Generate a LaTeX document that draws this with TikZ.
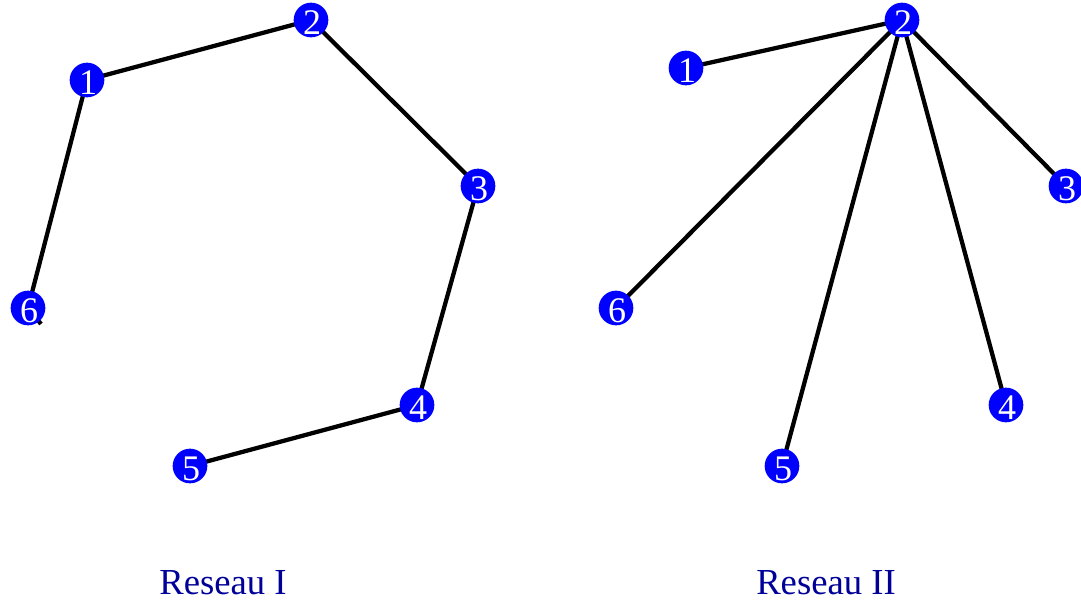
\documentclass[tikz,border=0pt]{standalone}
\usepackage{fontspec}
\setmainfont{Liberation Serif}
\usetikzlibrary{backgrounds}
\definecolor{navyt}{HTML}{000099}
\tikzset{
  nd/.style={circle,fill=blue,inner sep=0pt,minimum size=26pt,text=white,
    font=\fontsize{27}{27}\selectfont,text height=21pt,text depth=0pt,text width=12pt,align=center},
  ed/.style={line width=3.2pt,black},
  ttl/.style={text=navyt,font=\fontsize{27.5}{27.5}\selectfont}
}
\begin{document}
\begin{tikzpicture}[x=0.75pt,y=-0.75pt]
\useasboundingbox (0,0) rectangle (1081,603);
% Reseau I
\node[nd] (a1) at (87,80) {1};
\node[nd] (a2) at (311,20) {2};
\node[nd] (a3) at (478,186) {3};
\node[nd] (a4) at (417,405) {4};
\node[nd] (a5) at (190,466) {5};
\node[nd] (a6) at (28,308) {6};
\coordinate (t6) at (41,324);
% Reseau II
\node[nd] (b1) at (686,68) {1};
\node[nd] (b2) at (902,20) {2};
\node[nd] (b3) at (1066,186) {3};
\node[nd] (b4) at (1006,405) {4};
\node[nd] (b5) at (782,466) {5};
\node[nd] (b6) at (616,308) {6};
\begin{scope}[on background layer]
\draw[ed] (a1.center) -- (a2.center);
\draw[ed] (a2.center) -- (a3.center);
\draw[ed] (a3.center) -- (a4.center);
\draw[ed] (a4.center) -- (a5.center);
\draw[ed] (a1.center) -- (a6.center);
\draw[ed] (a6.center) -- (t6);
\draw[ed] (b2.center) -- (b1.center);
\draw[ed] (b2.center) -- (b3.center);
\draw[ed] (b2.center) -- (b4.center);
\draw[ed] (b2.center) -- (b5.center);
\draw[ed] (b2.center) -- (b6.center);
\end{scope}
\node[ttl] (ti) at (223,583) {Reseau I};
\node[ttl] (tii) at (826,583) {Reseau II};
\end{tikzpicture}
\end{document}
